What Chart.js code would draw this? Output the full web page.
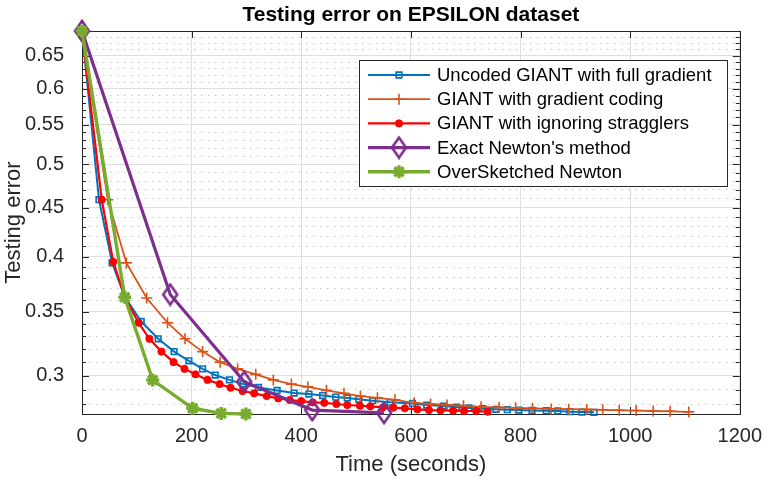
<!DOCTYPE html>
<html lang="en">
<head>
    <meta charset="UTF-8">
    <title>Testing error on EPSILON dataset</title>
    <script src="https://cdn.jsdelivr.net/npm/chart.js"></script>
    <style>
        html, body {
            margin: 0;
            padding: 0;
            background: #ffffff;
        }
        #wrap {
            width: 772px;
            height: 483px;
        }
    </style>
</head>
<body>
    <div id="wrap"><canvas id="errChart" width="772" height="483"></canvas></div>

    <script>
        // values
        const seriesNames = [
            'Uncoded GIANT with full gradient',
            'GIANT with gradient coding',
            'GIANT with ignoring stragglers',
            "Exact Newton's method",
            'OverSketched Newton'
        ];

        const blueTime = [0, 31, 55, 78, 108, 139, 168, 195, 220, 243, 269, 294, 322, 356, 387, 414, 439, 463, 484, 505, 530, 562, 603, 629, 659, 683, 706, 731, 755, 776, 797, 821, 847, 868, 890, 912, 934];
        const blueErr = [0.690, 0.459, 0.394, 0.363, 0.342, 0.328, 0.318, 0.311, 0.305, 0.3005, 0.297, 0.294, 0.2916, 0.2895, 0.2877, 0.2870, 0.2860, 0.2849, 0.2843, 0.2834, 0.2824, 0.2813, 0.2806, 0.2795, 0.2788, 0.2781, 0.2775, 0.2770, 0.2766, 0.2764, 0.2761, 0.2759, 0.2757, 0.2755, 0.2750, 0.2748, 0.2746];

        const orangeTime = [0, 47, 81, 118, 156, 188, 220, 252, 284, 317, 349, 382, 412, 446, 478, 508, 539, 571, 606, 636, 666, 696, 728, 761, 791, 822, 856, 888, 921, 950, 980, 1011, 1042, 1073, 1107];
        const orangeErr = [0.690, 0.459, 0.394, 0.362, 0.341, 0.328, 0.318, 0.310, 0.305, 0.301, 0.297, 0.294, 0.292, 0.2896, 0.2875, 0.2856, 0.2844, 0.2830, 0.2810, 0.2802, 0.2795, 0.2790, 0.2783, 0.2779, 0.2776, 0.2773, 0.2769, 0.2767, 0.2765, 0.2763, 0.2760, 0.2758, 0.2755, 0.2753, 0.2749];

        const redTime = [0, 36, 57, 78, 103, 123, 145, 167, 187, 207, 229, 251, 271, 293, 314, 337, 358, 379, 400, 421, 442, 464, 484, 507, 526, 549, 568, 589, 612, 633, 654, 677, 697, 719, 740];
        const redErr = [0.690, 0.459, 0.395, 0.363, 0.341, 0.328, 0.318, 0.310, 0.305, 0.301, 0.297, 0.294, 0.2914, 0.2891, 0.2875, 0.2856, 0.2840, 0.2829, 0.2822, 0.2813, 0.2810, 0.2802, 0.2795, 0.2790, 0.2786, 0.2779, 0.2777, 0.2773, 0.2766, 0.2761, 0.2759, 0.2757, 0.2755, 0.2755, 0.2750];

        const purpleTime = [0, 161, 296, 420, 551];
        const purpleErr = [0.690, 0.365, 0.2957, 0.2761, 0.2742];

        const greenTime = [0, 78, 129, 202, 254, 299];
        const greenErr = [0.690, 0.3626, 0.2969, 0.2773, 0.2739, 0.2735];

        const xTicks = [0, 200, 400, 600, 800, 1000, 1200];
        const yMajorTicks = [0.3, 0.35, 0.4, 0.45, 0.5, 0.55, 0.6, 0.65];
        const yMinorTicks = [0.28, 0.29, 0.31, 0.32, 0.33, 0.34, 0.36, 0.37, 0.38, 0.39,
            0.41, 0.42, 0.43, 0.44, 0.46, 0.47, 0.48, 0.49, 0.51, 0.52, 0.53, 0.54,
            0.56, 0.57, 0.58, 0.59, 0.61, 0.62, 0.63, 0.64, 0.66, 0.67, 0.68, 0.69];

        const FONT = "'Liberation Sans', Arial, Helvetica, sans-serif";
        const AXIS = '#262626';

        function toPoints(xs, ys) {
            return xs.map((x, i) => ({ x: x, y: ys[i] }));
        }

        // MATLAB style diamond: taller than wide, hollow
        function makeDiamond(w, h, color, lw) {
            const c = document.createElement('canvas');
            c.width = w + 4;
            c.height = h + 4;
            const g = c.getContext('2d');
            g.strokeStyle = color;
            g.lineWidth = lw;
            g.lineJoin = 'miter';
            g.beginPath();
            g.moveTo(c.width / 2, 2);
            g.lineTo(c.width - 2, c.height / 2);
            g.lineTo(c.width / 2, c.height - 2);
            g.lineTo(2, c.height / 2);
            g.closePath();
            g.stroke();
            return c;
        }

        const diamond = makeDiamond(14, 20, '#7E2F8E', 2.6);

        const datasets = [
            {
                label: seriesNames[0],
                data: toPoints(blueTime, blueErr),
                borderColor: '#0072BD',
                borderWidth: 2,
                pointStyle: 'rect',
                pointRadius: 4,
                pointBorderWidth: 1.6,
                pointBackgroundColor: 'rgba(0,0,0,0)',
                pointBorderColor: '#0072BD',
                order: 4
            },
            {
                label: seriesNames[1],
                data: toPoints(orangeTime, orangeErr),
                borderColor: '#D95319',
                borderWidth: 1.8,
                pointStyle: 'cross',
                pointRadius: 5.5,
                pointBorderWidth: 1.6,
                pointBackgroundColor: '#D95319',
                pointBorderColor: '#D95319',
                order: 3
            },
            {
                label: seriesNames[2],
                data: toPoints(redTime, redErr),
                borderColor: '#FF0000',
                borderWidth: 2.2,
                pointStyle: 'circle',
                pointRadius: 3.6,
                pointBorderWidth: 1,
                pointBackgroundColor: '#FF0000',
                pointBorderColor: '#FF0000',
                order: 2
            },
            {
                label: seriesNames[3],
                data: toPoints(purpleTime, purpleErr),
                borderColor: '#7E2F8E',
                borderWidth: 3.2,
                pointStyle: diamond,
                pointRadius: 10,
                pointBorderWidth: 2.6,
                pointBackgroundColor: 'rgba(0,0,0,0)',
                pointBorderColor: '#7E2F8E',
                order: 1
            },
            {
                label: seriesNames[4],
                data: toPoints(greenTime, greenErr),
                borderColor: '#77AC30',
                borderWidth: 3.4,
                pointStyle: 'star',
                pointRadius: 6.5,
                pointBorderWidth: 3.4,
                pointBackgroundColor: '#77AC30',
                pointBorderColor: '#77AC30',
                order: 0
            }
        ];
        datasets.forEach(d => {
            d.fill = false;
            d.tension = 0;
            d.clip = false;
        });

        // box, inward ticks, title and legend in the MATLAB look
        const matlabFrame = {
            id: 'matlabFrame',
            beforeDatasetsDraw(chart) {
                const { ctx, chartArea: a, scales } = chart;
                ctx.save();
                ctx.strokeStyle = AXIS;
                ctx.lineWidth = 1;
                ctx.beginPath();
                const hTick = (v, len) => {
                    const p = Math.round(scales.y.getPixelForValue(v)) + 0.5;
                    ctx.moveTo(a.left, p); ctx.lineTo(a.left + len, p);
                    ctx.moveTo(a.right, p); ctx.lineTo(a.right - len, p);
                };
                yMajorTicks.forEach(v => hTick(v, 7));
                yMinorTicks.forEach(v => hTick(v, 4));
                xTicks.forEach(v => {
                    const p = Math.round(scales.x.getPixelForValue(v)) + 0.5;
                    ctx.moveTo(p, a.bottom); ctx.lineTo(p, a.bottom - 7);
                    ctx.moveTo(p, a.top); ctx.lineTo(p, a.top + 7);
                });
                ctx.stroke();
                ctx.strokeRect(Math.round(a.left) + 0.5, Math.round(a.top) + 0.5,
                    Math.round(a.right - a.left), Math.round(a.bottom - a.top));
                ctx.restore();
            },
            afterDraw(chart) {
                const { ctx, chartArea: a } = chart;
                ctx.save();

                // title
                ctx.fillStyle = '#000000';
                ctx.font = 'bold 21px ' + FONT;
                ctx.textAlign = 'center';
                ctx.textBaseline = 'alphabetic';
                ctx.fillText('Testing error on EPSILON dataset', (a.left + a.right) / 2, 21);

                // legend
                const box = { x: 359.5, y: 60.5, w: 368, h: 126 };
                ctx.fillStyle = '#ffffff';
                ctx.fillRect(box.x, box.y, box.w, box.h);
                ctx.strokeStyle = AXIS;
                ctx.lineWidth = 1;
                ctx.strokeRect(box.x, box.y, box.w, box.h);

                ctx.font = '18.5px ' + FONT;
                ctx.textAlign = 'left';
                ctx.textBaseline = 'middle';
                chart.data.datasets.forEach((ds, i) => {
                    const y = 75 + i * 24.2;
                    ctx.strokeStyle = ds.borderColor;
                    ctx.lineWidth = ds.borderWidth;
                    ctx.beginPath();
                    ctx.moveTo(368, y);
                    ctx.lineTo(430, y);
                    ctx.stroke();
                    ctx.fillStyle = ds.pointBackgroundColor;
                    ctx.strokeStyle = ds.pointBorderColor;
                    ctx.lineWidth = ds.pointBorderWidth;
                    Chart.helpers.drawPoint(ctx, {
                        pointStyle: ds.pointStyle,
                        radius: ds.pointRadius,
                        borderWidth: ds.pointBorderWidth,
                        rotation: 0
                    }, 399, y);
                    ctx.fillStyle = '#000000';
                    ctx.fillText(ds.label, 437, y + 1);
                });
                ctx.restore();
            }
        };

        new Chart(document.getElementById('errChart'), {
            type: 'line',
            data: { datasets: datasets },
            plugins: [matlabFrame],
            options: {
                responsive: false,
                animation: false,
                layout: { padding: { top: 31, right: 25.5, left: 0, bottom: 0 } },
                plugins: {
                    legend: { display: false },
                    title: { display: false },
                    tooltip: { enabled: false }
                },
                scales: {
                    x: {
                        type: 'linear',
                        min: 0,
                        max: 1200,
                        afterBuildTicks: s => { s.ticks = xTicks.map(v => ({ value: v })); },
                        afterFit: s => { s.height = 69; },
                        grid: { color: '#dedede', lineWidth: 1, drawTicks: false },
                        border: { display: false },
                        ticks: {
                            padding: 10,
                            color: AXIS,
                            font: { family: FONT, size: 20 },
                            maxRotation: 0,
                            callback: v => String(v)
                        },
                        title: {
                            display: true,
                            text: 'Time (seconds)',
                            color: AXIS,
                            font: { family: FONT, size: 22 },
                            padding: { top: 0, bottom: 5 }
                        }
                    },
                    y: {
                        type: 'logarithmic',
                        position: 'left',
                        min: 0.2735,
                        max: 0.690,
                        afterBuildTicks: s => { s.ticks = yMajorTicks.map(v => ({ value: v })); },
                        afterFit: s => { s.width = 82; },
                        grid: { color: '#dedede', lineWidth: 1, drawTicks: false },
                        border: { display: false },
                        ticks: {
                            padding: 18,
                            color: AXIS,
                            font: { family: FONT, size: 20 },
                            callback: v => String(v)
                        },
                        title: {
                            display: true,
                            text: 'Testing error',
                            color: AXIS,
                            font: { family: FONT, size: 22 },
                            padding: { top: 1, bottom: 0 }
                        }
                    },
                    yMinor: {
                        type: 'logarithmic',
                        position: 'right',
                        min: 0.2735,
                        max: 0.690,
                        afterBuildTicks: s => { s.ticks = yMinorTicks.map(v => ({ value: v })); },
                        afterFit: s => { s.width = 0; },
                        grid: { color: '#c4c4c4', lineWidth: 1, drawTicks: false },
                        border: { display: false, dash: [1.5, 5.5] },
                        ticks: { display: false }
                    }
                }
            }
        });
    </script>
</body>
</html>
